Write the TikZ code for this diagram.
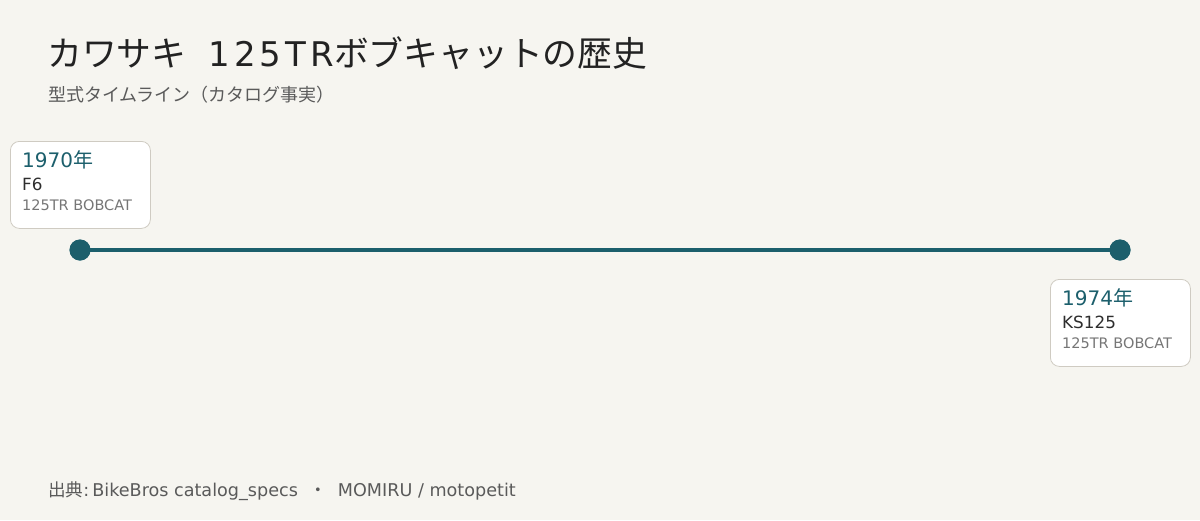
\documentclass[tikz,border=0pt]{standalone}
\usepackage{fontspec}
\setmainfont{DejaVu Sans}
\newfontfamily\jp{Noto Sans CJK JP}
\newfontfamily\lattitle[LetterSpace=12]{DejaVu Sans}
\definecolor{bg}{HTML}{F6F5F0}
\definecolor{teal}{HTML}{1C5F6C}
\definecolor{titlec}{HTML}{222222}
\definecolor{subc}{HTML}{5A5A5A}
\definecolor{boxline}{HTML}{CFCBC2}
\definecolor{modelc}{HTML}{2E2E2E}
\definecolor{grayc}{HTML}{767676}
\tikzset{
  card/.style={draw=boxline, line width=0.8pt, fill=white, rounded corners=9pt, minimum width=140pt, minimum height=87pt, anchor=north west, inner sep=0pt},
  yeartxt/.style={anchor=base west, inner sep=0pt, text=teal, font=\fontsize{20}{24}\selectfont},
  modeltxt/.style={anchor=base west, inner sep=0pt, text=modelc, font=\fontsize{16.8}{19}\selectfont},
  nametxt/.style={anchor=base west, inner sep=0pt, text=grayc, font=\fontsize{14.5}{17}\selectfont},
  dot/.style={circle, fill=teal, minimum size=21pt, inner sep=0pt},
}
\begin{document}
\begin{tikzpicture}[x=1pt,y=-1pt]
\fill[bg] (0,0) rectangle (1200,520);
\useasboundingbox (0,0) rectangle (1200,520);
\node[anchor=base west, inner sep=0pt, text=titlec, font=\fontsize{34.8}{40}\selectfont] (title) at (47,66) {{\jp カワサキ}\kern22pt{\lattitle\fontsize{34}{40}\selectfont 125TR}{\jp ボブキャットの歴史}};
\node[anchor=base west, inner sep=0pt, text=subc, font=\jp\fontsize{18}{21}\selectfont] (sub) at (48,101) {型式タイムライン（カタログ事実）};
% timeline
\node[dot] (d1) at (80,250) {};
\node[dot] (d2) at (1120,250) {};
\draw[teal, line width=4pt] (d1.center) -- (d2.center);
\node[dot] at (d1) {};
\node[dot] at (d2) {};
% card 1
\node[card] (c1) at (10,141) {};
\node[yeartxt] (y1) at (22,167) {1970{\jp 年}};
\node[modeltxt] (m1) at (22,190.7) {F6};
\node[nametxt] (n1) at (22,210.7) {125TR BOBCAT};
% card 2
\node[card] (c2) at (1050,279) {};
\node[yeartxt] (y2) at (1062,305) {1974{\jp 年}};
\node[modeltxt] (m2) at (1062,328.7) {KS125};
\node[nametxt] (n2) at (1062,348.7) {125TR BOBCAT};
% footer
\node[anchor=base west, inner sep=0pt, text=subc, font=\fontsize{17.6}{20}\selectfont] (foot) at (48,496) {{\jp 出典}:\kern3pt BikeBros catalog\_specs \ {\jp ・} \ MOMIRU / motopetit};
\end{tikzpicture}
\end{document}
